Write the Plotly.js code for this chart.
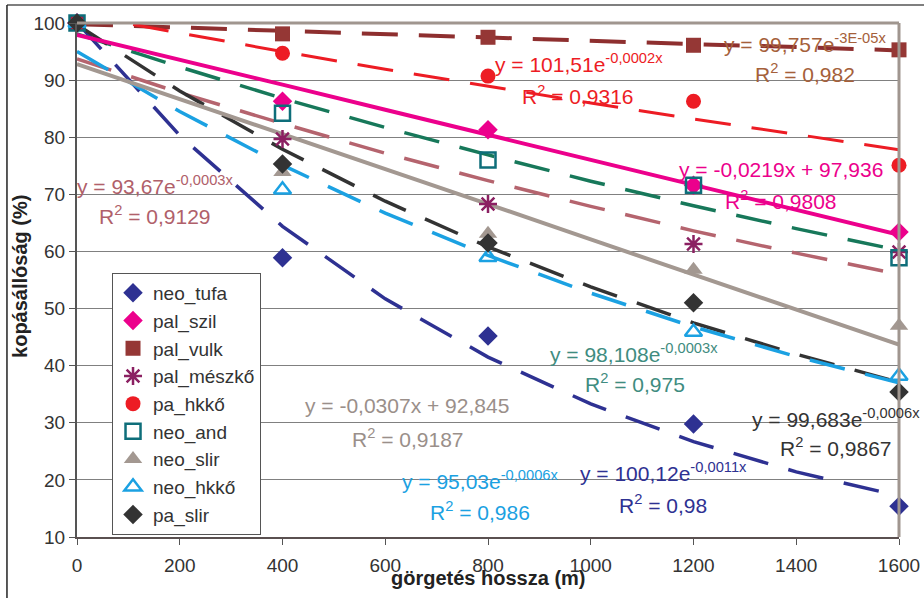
<!DOCTYPE html>
<html>
<head>
<meta charset="utf-8">
<script src="https://cdn.plot.ly/plotly-3.0.1.min.js"></script>
<style>html,body{margin:0;padding:0;background:#fff;}#chart{width:924px;height:598px;}</style>
</head>
<body>
<div id="chart"></div>
<script>
// x positions of the measurements (m)
const xVals = [0, 400, 800, 1200, 1600];
const xTicks = [0, 200, 400, 600, 800, 1000, 1200, 1400, 1600];
const yTicks = [10, 20, 30, 40, 50, 60, 70, 80, 90, 100];

// measured values (%)
const seriesNames = ["neo_tufa", "pal_szil", "pal_vulk", "pal_mészkő", "pa_hkkő", "neo_and", "neo_slir", "neo_hkkő", "pa_slir"];
const neo_tufa   = [100, 58.9, 45.2, 29.8, 15.4];
const pal_szil   = [100, 86.3, 81.3, 71.6, 63.4];
const pal_vulk   = [100, 98.1, 97.5, 96.1, 95.3];
const pal_meszko = [100, 79.7, 68.3, 61.3, 59.9];
const pa_hkko    = [100, 94.7, 90.7, 86.3, 75.1];
const neo_and    = [100, 84.2, 76.0, 71.6, 58.9];
const neo_slir   = [100, 73.9, 63.1, 56.8, 47.0];
const neo_hkko   = [100, 70.8, 59.0, 45.9, 38.2];
const pa_slir    = [100, 75.3, 61.5, 51.0, 35.4];

// trend lines
const trendX = [0, 200, 400, 600, 800, 1000, 1200, 1400, 1600];
const tr_neo_tufa   = [100.1, 80.3, 64.4, 51.7, 41.5, 33.3, 26.7, 21.4, 17.2];
const tr_pal_szil   = [97.9, 93.6, 89.2, 84.8, 80.4, 76.0, 71.7, 67.3, 62.9];
const tr_pal_vulk   = [99.8, 99.2, 98.6, 98.0, 97.5, 96.9, 96.3, 95.8, 95.2];
const tr_pal_meszko = [93.7, 87.8, 82.4, 77.2, 72.4, 67.9, 63.6, 59.7, 56.0];
const tr_pa_hkko    = [101.5, 98.2, 95.0, 91.9, 88.9, 86.0, 83.2, 80.5, 77.8];
const tr_neo_and    = [98.1, 92.3, 86.8, 81.7, 76.9, 72.3, 68.0, 64.0, 60.2];
const tr_neo_slir   = [92.8, 86.7, 80.6, 74.4, 68.3, 62.1, 56.0, 49.9, 43.7];
const tr_neo_hkko   = [95.0, 84.5, 75.1, 66.7, 59.3, 52.7, 46.8, 41.6, 37.0];
const tr_pa_slir    = [99.7, 88.1, 77.9, 68.8, 60.8, 53.8, 47.5, 42.0, 37.1];

// trend equation labels
const eqTexts = [
  "y = 101,51e<sup>-0,0002x</sup>", "R<sup>2</sup> = 0,9316",
  "y = 99,757e<sup>-3E-05x</sup>", "R<sup>2</sup> = 0,982",
  "y = -0,0219x + 97,936", "R<sup>2</sup> = 0,9808",
  "y = 93,67e<sup>-0,0003x</sup>", "R<sup>2</sup> = 0,9129",
  "y = 98,108e<sup>-0,0003x</sup>", "R<sup>2</sup> = 0,975",
  "y = -0,0307x + 92,845", "R<sup>2</sup> = 0,9187",
  "y = 95,03e<sup>-0,0006x</sup>", "R<sup>2</sup> = 0,986",
  "y = 100,12e<sup>-0,0011x</sup>", "R<sup>2</sup> = 0,98",
  "y = 99,683e<sup>-0,0006x</sup>", "R<sup>2</sup> = 0,9867"
];
const eqX = [977, 975, 1417, 1417, 1370, 1370, 152, 152, 1084, 1086, 642, 644, 784, 784, 1141, 1141, 1477, 1477];
const eqY = [93.0, 87.4, 96.5, 91.2, 74.3, 69.0, 71.6, 66.4, 42.2, 37.0, 33.1, 27.3, 20.0, 14.5, 21.4, 15.8, 30.8, 25.8];
const eqColors = ["#ED1C24", "#ED1C24", "#A5603A", "#A5603A", "#EC008C", "#EC008C", "#B0606A", "#B0606A",
  "#3F8C80", "#3F8C80", "#9A8F8A", "#9A8F8A", "#1BA1E2", "#1BA1E2", "#2E3192", "#2E3192", "#333333", "#333333"];

const FONT = "Liberation Sans, Arial, sans-serif";
const DASH = "36px,21px";

const trends = [
  {y: tr_neo_tufa, color: "#2E3192", dash: DASH, w: 3.5},
  {y: tr_pal_vulk, color: "#8E2F2F", dash: DASH, w: 4},
  {y: tr_pa_hkko, color: "#ED1C24", dash: DASH, w: 3},
  {y: tr_neo_and, color: "#17785A", dash: DASH, w: 3.5},
  {y: tr_pal_meszko, color: "#B5646E", dash: DASH, w: 3.5},
  {y: tr_pa_slir, color: "#333333", dash: DASH, w: 3.5},
  {y: tr_neo_hkko, color: "#1BA1E2", dash: DASH, w: 3.5},
  {y: tr_neo_slir, color: "#A39891", dash: "solid", w: 4},
  {y: tr_pal_szil, color: "#EC008C", dash: "solid", w: 4}
];

const data = [];
trends.forEach(t => data.push({
  x: trendX, y: t.y, type: "scatter", mode: "lines", showlegend: false, hoverinfo: "skip",
  line: {color: t.color, width: t.w, dash: t.dash}
}));

const pts = [
  {y: neo_tufa, sym: "diamond", color: "#2E3192", size: 15},
  {y: pal_szil, sym: "diamond", color: "#EC008C", size: 15},
  {y: pal_vulk, sym: "square", color: "#953735", size: 15},
  {y: pal_meszko, sym: "asterisk-open", color: "#8B2062", size: 15, line: 2.5},
  {y: pa_hkko, sym: "circle", color: "#ED1C24", size: 15},
  {y: neo_and, sym: "square-open", color: "#0E6E7A", size: 15, line: 2.5},
  {y: neo_slir, sym: "triangle-up", color: "#A39891", size: 16},
  {y: neo_hkko, sym: "triangle-up-open", color: "#1BA1E2", size: 15, line: 2.5},
  {y: pa_slir, sym: "diamond", color: "#333333", size: 15}
];
pts.forEach((p, i) => data.push({
  x: xVals, y: p.y, type: "scatter", mode: "markers", name: seriesNames[i], cliponaxis: false,
  marker: {symbol: p.sym, size: p.size, color: p.color,
    line: {color: p.color, width: p.line || 0}}
}));

const annotations = eqTexts.map((t, i) => ({
  x: eqX[i], y: eqY[i], xref: "x", yref: "y", text: t, showarrow: false,
  xanchor: "center", yanchor: "middle", font: {family: FONT, size: 21, color: eqColors[i]}
}));
annotations.push({
  x: -0.0693, y: 0.506, xref: "paper", yref: "paper", text: "kopásállóság (%)", textangle: -90,
  showarrow: false, xanchor: "center", yanchor: "middle",
  font: {family: FONT, size: 20, color: "#222", weight: "bold"}
});
annotations.push({
  x: 0.4995, y: -0.0798, xref: "paper", yref: "paper", text: "görgetés hossza (m)",
  showarrow: false, xanchor: "center", yanchor: "middle",
  font: {family: FONT, size: 20, color: "#222", weight: "bold"}
});

const layout = {
  width: 924, height: 598,
  margin: {l: 77, r: 25, t: 23, b: 61},
  paper_bgcolor: "#fff", plot_bgcolor: "#fff",
  font: {family: FONT, color: "#333"},
  showlegend: true,
  legend: {x: 0.0426, y: 0.5136, xanchor: "left", yanchor: "top", bgcolor: "#fff", entrywidth: 120,
    bordercolor: "#555", borderwidth: 1, font: {family: FONT, size: 19, color: "#333"}},
  xaxis: {range: [0, 1600], tickvals: xTicks, ticktext: xTicks.map(String), showgrid: false, zeroline: false,
    ticks: "outside", ticklen: 6, tickcolor: "#555", showline: true, linecolor: "#5a5050", linewidth: 2,
    ticklabelstandoff: 4,
    tickfont: {family: FONT, size: 19, color: "#333"}},
  yaxis: {range: [10, 100], tickvals: yTicks, ticktext: yTicks.map(String), showgrid: true, gridcolor: "#808080",
    gridwidth: 1, zeroline: false, ticks: "outside", ticklen: 6, tickcolor: "#555", showline: true,
    linecolor: "#555", linewidth: 2, tickfont: {family: FONT, size: 19, color: "#333"}},
  shapes: [
    {type: "line", xref: "paper", yref: "paper", x0: 0, x1: 1, y0: 1, y1: 1, line: {color: "#A0968F", width: 3}},
    {type: "line", xref: "paper", yref: "paper", x0: 1, x1: 1, y0: 0, y1: 1, line: {color: "#A0968F", width: 3}},
    {type: "line", xref: "paper", yref: "paper", x0: -0.0852, x1: 1.04, y0: 1.035, y1: 1.035, line: {color: "#555", width: 1.5}},
    {type: "line", xref: "paper", yref: "paper", x0: -0.0852, x1: -0.0852, y0: -0.13, y1: 1.035, line: {color: "#222", width: 1.5}}
  ],
  annotations: annotations
};

Plotly.newPlot("chart", data, layout, {displayModeBar: false, staticPlot: true});
</script>
</body>
</html>
